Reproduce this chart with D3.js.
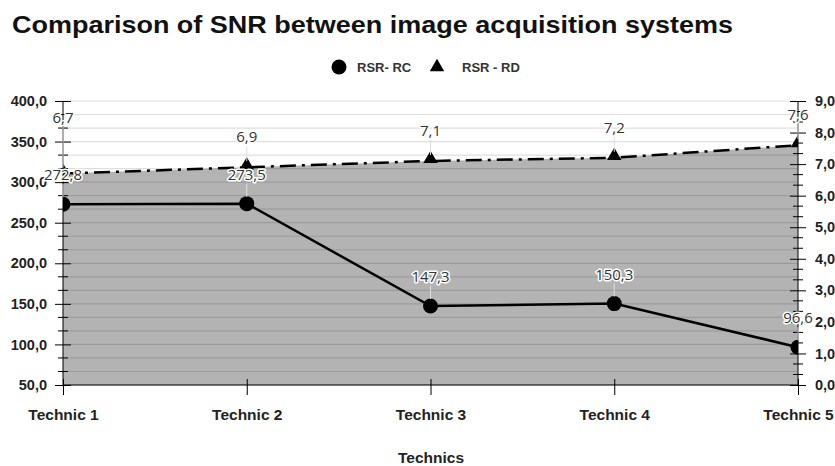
<!DOCTYPE html>
<html><head><meta charset="utf-8">
<script src="https://cdn.jsdelivr.net/npm/d3@7"></script>
<style>body{margin:0;background:#fff;}svg{display:block;}</style>
</head><body>
<svg id="chart" width="835" height="466"></svg>
<script>
const categories = ["Technic 1","Technic 2","Technic 3","Technic 4","Technic 5"];
const rsrRC = [272.8, 273.5, 147.3, 150.3, 96.6];
const rsrRD = [6.7, 6.9, 7.1, 7.2, 7.6];
const leftTicks = [50,100,150,200,250,300,350,400];
const rightTicks = [0,1,2,3,4,5,6,7,8,9];
const seriesNames = ["RSR- RC","RSR - RD"];
const titleText = "Comparison of SNR between image acquisition systems";
const xTitle = "Technics";

const svg = d3.select("#chart");
const L = 63, R = 798, T = 101, B = 385;
const x = d3.scalePoint().domain(categories).range([L,R]);
const yL = d3.scaleLinear().domain([50,400]).range([B,T]);
const yR = d3.scaleLinear().domain([0,9]).range([B,T]);
const fmt = v => d3.format(".1f")(v).replace(".",",");
const axisFont = "'Liberation Sans', Arial, sans-serif";

svg.append("text").attr("x",12).attr("y",33).text(titleText)
  .attr("font-family","'Liberation Sans', Arial, sans-serif").attr("font-weight","bold")
  .attr("font-size",24).attr("textLength",721).attr("lengthAdjust","spacingAndGlyphs").attr("fill","#111");

// legend
const lg = svg.append("g").attr("font-family",axisFont).attr("font-weight","bold").attr("font-size",13).attr("fill","#333");
lg.append("circle").attr("cx",339).attr("cy",67).attr("r",7.5).attr("fill","#000");
lg.append("text").attr("x",357).attr("y",72).text(seriesNames[0]);
lg.append("path").attr("d",d3.symbol(d3.symbolTriangle,90)()).attr("transform","translate(437,67)").attr("fill","#000");
lg.append("text").attr("x",462).attr("y",72).text(seriesNames[1]);

svg.append("defs").append("clipPath").attr("id","plot").append("rect")
  .attr("x",L).attr("y",T-20).attr("width",R-L).attr("height",B-T+20);

// area under RD
const area = d3.area().x((d,i)=>x(categories[i])).y0(B).y1(d=>yR(d));
svg.append("path").datum(rsrRD).attr("d",area).attr("fill","#b3b3b3");

// gridlines
const gridVals = d3.range(0,22).map(k=>50+k*50/3);
svg.append("g").selectAll("line").data(gridVals).join("line")
  .attr("x1",L).attr("x2",R).attr("y1",d=>yL(d)).attr("y2",d=>yL(d))
  .attr("stroke","rgba(0,0,0,0.13)").attr("stroke-width",1.2);

// axes
const minorL = gridVals.filter((d,i)=>i%3!==0);
const gL = svg.append("g").attr("transform",`translate(${L},0)`);
gL.call(d3.axisLeft(yL).tickValues(leftTicks).tickFormat(fmt).tickSize(8).tickPadding(8));
gL.selectAll(".tick line").attr("x2",8).attr("x1",-8);
gL.selectAll(".tick text").attr("font-family",axisFont).attr("font-weight","bold").attr("font-size",14.5).attr("fill","#222").attr("x",-16);
gL.select(".domain").attr("d",`M0,${T}V${B}`);
gL.selectAll(".minor").data(minorL).join("line").attr("class","minor")
  .attr("x1",-5).attr("x2",5).attr("y1",d=>yL(d)).attr("y2",d=>yL(d)).attr("stroke","#000");

const minorR = d3.range(0,28).map(k=>k/3).filter((d,i)=>i%3!==0);
const gR = svg.append("g").attr("transform",`translate(${R},0)`);
gR.call(d3.axisRight(yR).tickValues(rightTicks).tickFormat(fmt).tickSize(8));
gR.selectAll(".tick line").attr("x1",-8).attr("x2",8);
gR.selectAll(".tick text").attr("font-family",axisFont).attr("font-weight","bold").attr("font-size",14.5).attr("fill","#222").attr("x",17);
gR.select(".domain").attr("d",`M0,${T}V${B}`);
gR.selectAll(".minor").data(minorR).join("line").attr("class","minor")
  .attr("x1",-5).attr("x2",5).attr("y1",d=>yR(d)).attr("y2",d=>yR(d)).attr("stroke","#000");

const gX = svg.append("g").attr("transform",`translate(0,${B})`);
gX.call(d3.axisBottom(x).tickSize(10).tickPadding(14));
gX.selectAll(".tick line").attr("y1",-6).attr("y2",10);
gX.select(".domain").attr("d",`M${L},0H${R}`);
gX.selectAll(".tick text").attr("font-family",axisFont).attr("font-weight","bold").attr("font-size",15.5).attr("fill","#222")
  .attr("dy",null).attr("y",35);

svg.append("text").attr("x",431).attr("y",463).attr("text-anchor","middle").text(xTitle)
  .attr("font-family",axisFont).attr("font-weight","bold").attr("font-size",15.5).attr("fill","#222");

// lines & markers
const plot = svg.append("g").attr("clip-path","url(#plot)");
const lineRD = d3.line().x((d,i)=>x(categories[i])).y(d=>yR(d));
const lineRC = d3.line().x((d,i)=>x(categories[i])).y(d=>yL(d));

// leader lines
const rdLab = rsrRD.map((d,i)=>yR(d) - (i===0?56:30));
const rcLab = rsrRC.map(d=>yL(d)-29);
const leaders = svg.append("g").attr("stroke","#ddd").attr("stroke-width",1);
rsrRD.forEach((d,i)=>leaders.append("line").attr("x1",x(categories[i])).attr("x2",x(categories[i])).attr("y1",rdLab[i]+9).attr("y2",yR(d)-6));
rsrRC.forEach((d,i)=>leaders.append("line").attr("x1",x(categories[i])).attr("x2",x(categories[i])).attr("y1",rcLab[i]+9).attr("y2",yL(d)-7));

plot.append("path").datum(rsrRD).attr("d",lineRD).attr("fill","none").attr("stroke","#000")
  .attr("stroke-width",2.5).attr("stroke-dasharray","16,6,3,6");
plot.append("path").datum(rsrRC).attr("d",lineRC).attr("fill","none").attr("stroke","#000").attr("stroke-width",2.5);
plot.selectAll(".tri").data(rsrRD).join("path").attr("class","tri")
  .attr("d",d3.symbol(d3.symbolTriangle,90)()).attr("transform",(d,i)=>`translate(${x(categories[i])},${yR(d)-2})`).attr("fill","#000");
plot.selectAll(".dot").data(rsrRC).join("circle").attr("class","dot")
  .attr("cx",(d,i)=>x(categories[i])).attr("cy",d=>yL(d)).attr("r",7.5).attr("fill","#000");

// data labels
const labFont = "'Open Sans', Roboto, sans-serif";
function label(txt,xx,yy){
  svg.append("text").attr("x",xx).attr("y",yy+5).attr("text-anchor","middle").text(txt)
    .attr("font-family",labFont).attr("font-size",15).attr("fill","#333")
    .attr("stroke","#fff").attr("stroke-width",3).attr("paint-order","stroke").attr("stroke-linejoin","round");
}
rsrRD.forEach((d,i)=>label(fmt(d),x(categories[i]),rdLab[i]));
rsrRC.forEach((d,i)=>label(fmt(d),x(categories[i]),rcLab[i]));
</script>
</body></html>
